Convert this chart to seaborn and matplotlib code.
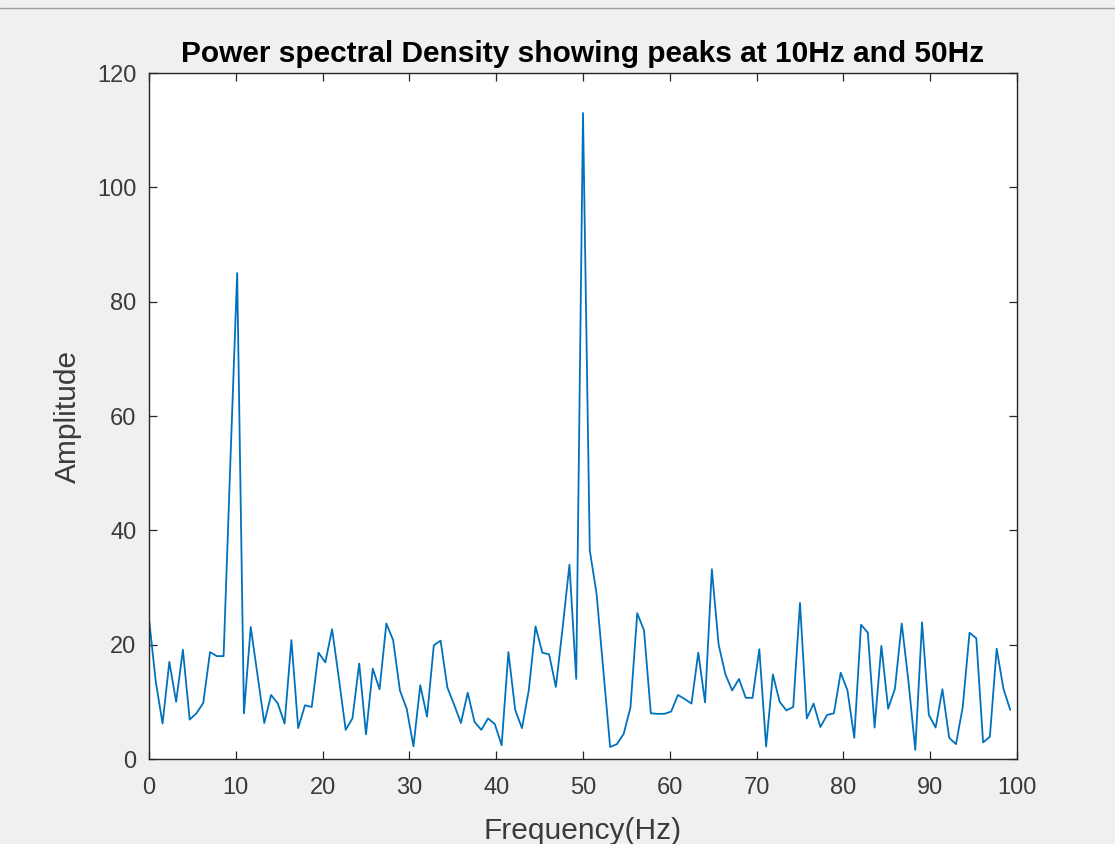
import numpy as np
import pandas as pd
import matplotlib
matplotlib.use("Agg")
import matplotlib.pyplot as plt
import seaborn as sns
from matplotlib.lines import Line2D

# One-sided spectrum of a 256-point FFT sampled at 200 Hz
fs = 200
n_fft = 256

amplitude = [
    24.5, 13.5, 6.2, 17.0, 10.0, 19.1, 6.9, 8.0, 9.8, 18.7,
    18.0, 18.0, 52.0, 85.0, 8.0, 23.1, 14.7, 6.3, 11.2, 9.7,
    6.2, 20.8, 5.4, 9.4, 9.1, 18.6, 16.9, 22.7, 14.1, 5.1,
    7.1, 16.7, 4.3, 15.8, 12.2, 23.7, 20.8, 12.0, 8.8, 2.2,
    12.9, 7.4, 19.9, 20.7, 12.5, 9.5, 6.3, 11.6, 6.5, 5.1,
    7.1, 6.1, 2.4, 18.7, 8.6, 5.4, 12.0, 23.2, 18.6, 18.3,
    12.6, 23.0, 34.0, 14.0, 113.0, 36.5, 28.9, 15.5, 2.1, 2.6,
    4.4, 9.0, 25.5, 22.5, 8.0, 7.9, 7.9, 8.3, 11.2, 10.5,
    9.7, 18.6, 9.9, 33.2, 20.0, 14.8, 12.0, 14.0, 10.7, 10.7,
    19.2, 2.2, 14.8, 10.0, 8.5, 9.1, 27.3, 7.1, 9.7, 5.6,
    7.7, 8.0, 15.1, 12.0, 3.7, 23.5, 22.1, 5.5, 19.8, 8.8,
    12.3, 23.7, 13.5, 1.6, 23.9, 7.7, 5.5, 12.2, 3.7, 2.6,
    9.1, 22.1, 21.1, 2.9, 3.9, 19.3, 12.3, 8.6,
]
freq = np.arange(len(amplitude)) * fs / n_fft

x_ticks = [0, 10, 20, 30, 40, 50, 60, 70, 80, 90, 100]
y_ticks = [0, 20, 40, 60, 80, 100, 120]

title_text = "Power spectral Density showing peaks at 10Hz and 50Hz"
x_label = "Frequency(Hz)"
y_label = "Amplitude"

df = pd.DataFrame({"freq": freq, "amp": amplitude})

sns.set_style("ticks", {
    "axes.facecolor": "white",
    "figure.facecolor": "#f0f0f0",
    "xtick.direction": "in",
    "ytick.direction": "in",
    "axes.edgecolor": "#262626",
})
plt.rcParams["font.family"] = ["Liberation Sans", "DejaVu Sans"]

fig = plt.figure(figsize=(11.15, 8.44), dpi=100)
fig.patch.set_facecolor("#f0f0f0")
ax = fig.add_axes([149 / 1115, 1 - 759 / 844, (1017 - 149) / 1115, (759 - 73) / 844])

sns.lineplot(data=df, x="freq", y="amp", ax=ax, color="#0072BD",
             linewidth=1.3, estimator=None, sort=False)

ax.set_xlim(0, 100)
ax.set_ylim(0, 120)
ax.set_xticks(x_ticks)
ax.set_yticks(y_ticks)
ax.tick_params(axis="both", which="both", direction="in", length=6, width=0.9,
               top=True, right=True, colors="#262626", labelcolor="#3a3a3a",
               labelsize=17)
ax.tick_params(axis="x", pad=13)
ax.tick_params(axis="y", pad=9)
for s in ax.spines.values():
    s.set_visible(True)
    s.set_linewidth(1.0)
    s.set_color("#262626")

ax.set_title(title_text, fontsize=21.5, fontweight="bold", color="black", pad=8)
ax.set_xlabel(x_label, fontsize=21.5, color="#3a3a3a", labelpad=13)
ax.set_ylabel(y_label, fontsize=21.5, color="#3a3a3a", labelpad=11)

# thin frame line along the top of the window
fig.add_artist(Line2D([0, 1], [1 - 8 / 844, 1 - 8 / 844], color="#a0a0a0", linewidth=1.0))

fig.savefig("out.png", dpi=100, facecolor=fig.get_facecolor())
